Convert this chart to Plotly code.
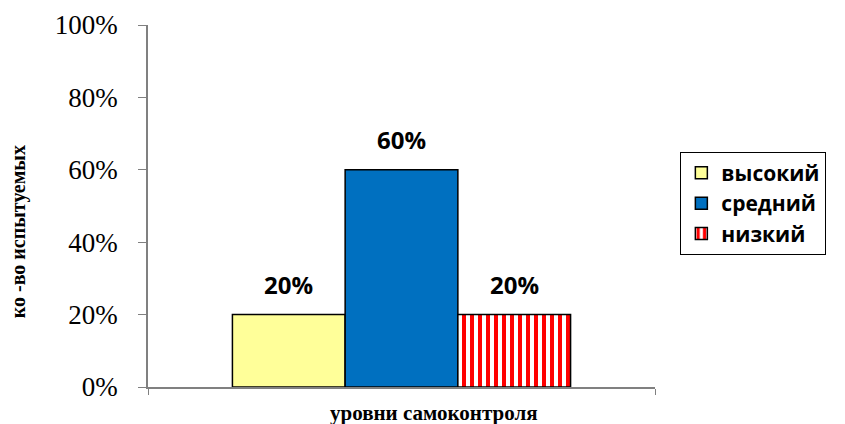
import plotly.graph_objects as go

categories = ["высокий", "средний", "низкий"]
values = [20, 60, 20]
labels = ["20%", "60%", "20%"]
colors = ["#FFFF99", "#0070C0", "#FFFFFF"]
y_ticks = [0, 20, 40, 60, 80, 100]
y_tick_labels = ["0%", "20%", "40%", "60%", "80%", "100%"]

W, H = 845, 424
ML, MR, MT, MB = 140, 198, 17, 45
BARGAP = 0.333
plot_w = W - ML - MR

fig = go.Figure()
n = len(categories)
bar_px = plot_w * (1 - BARGAP) / n
for i, name in enumerate(categories):
    marker = dict(color=colors[i], line=dict(color="black", width=1.5))
    if name == "низкий":
        marker["pattern"] = dict(shape="|", fgcolor="#FF0000", bgcolor="#FFFFFF",
                                 fgopacity=1, size=8, solidity=0.5,
                                 fillmode="overlay")
    fig.add_trace(go.Bar(x=[""], y=[values[i]], name=name, marker=marker))
    fig.add_annotation(
        x=0, y=values[i], xref="x", yref="y", text=labels[i], showarrow=False,
        xshift=(i - (n - 1) / 2) * bar_px, yshift=30, yanchor="middle",
        font=dict(family="Open Sans", size=24, color="black", weight="bold"),
    )

fig.add_annotation(
    x=-0.256, y=0.428, xref="paper", yref="paper", text="ко -во испытуемых",
    textangle=-90, showarrow=False, xanchor="center", yanchor="middle",
    font=dict(family="Liberation Serif", size=20, color="black", weight="bold"),
)
fig.add_annotation(
    x=0.564, y=-0.072, xref="paper", yref="paper", text="уровни самоконтроля",
    showarrow=False, xanchor="center", yanchor="middle",
    font=dict(family="Liberation Serif", size=21, color="black", weight="bold"),
)

fig.update_layout(
    width=W, height=H,
    margin=dict(l=ML, r=MR, t=MT, b=MB, autoexpand=False),
    paper_bgcolor="white", plot_bgcolor="white",
    barmode="group", bargap=BARGAP, bargroupgap=0,
    showlegend=True,
    legend=dict(x=1.05, y=0.65, xanchor="left", yanchor="top",
                bordercolor="black", borderwidth=1, bgcolor="white",
                font=dict(family="Open Sans", size=21, color="black", weight="bold"),
                tracegroupgap=0, itemwidth=30),
)
fig.update_yaxes(
    range=[0, 100], tickvals=y_ticks, ticktext=y_tick_labels,
    showline=True, linecolor="#808080", linewidth=1.5,
    ticks="outside", ticklen=8, tickcolor="#808080", ticklabelstandoff=15,
    showgrid=False, zeroline=False,
    tickfont=dict(family="Liberation Serif", size=27, color="black"),
)
fig.update_xaxes(
    type="category", range=[-0.5, 0.5],
    showline=True, linecolor="#808080", linewidth=1.5,
    ticks="outside", tickson="boundaries", ticklen=6, tickcolor="#808080",
    showticklabels=False, showgrid=False,
)

fig.write_html("out.html")
